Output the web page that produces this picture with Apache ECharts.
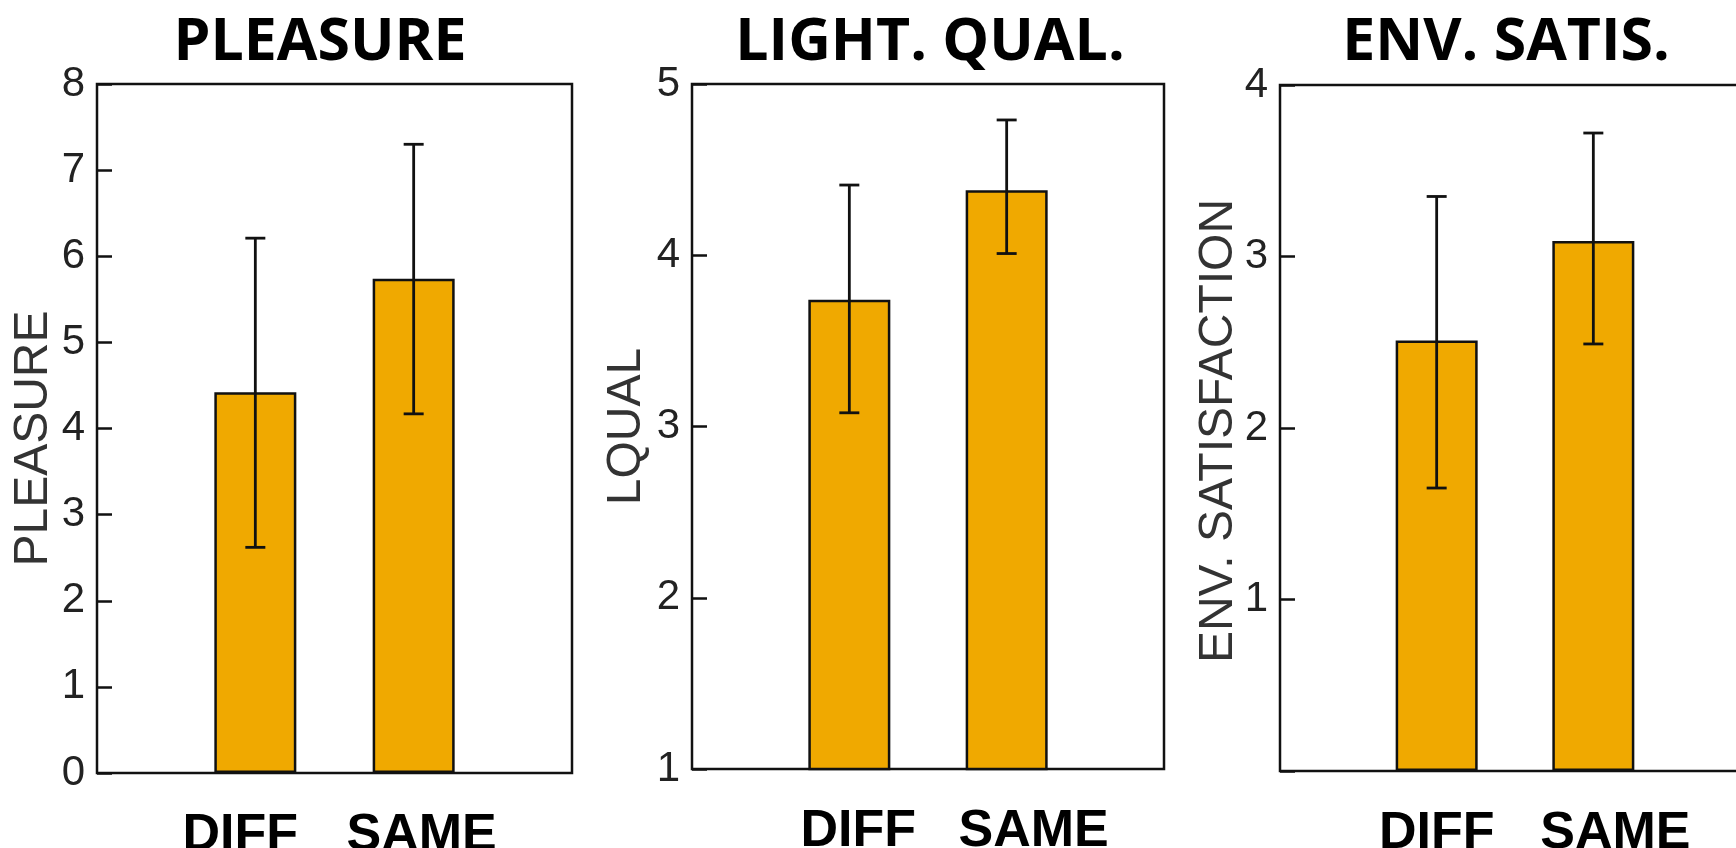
<!DOCTYPE html>
<html>
<head>
<meta charset="utf-8">
<script src="https://cdn.jsdelivr.net/npm/echarts@6/dist/echarts.min.js"></script>
<style>
  html, body { margin: 0; padding: 0; background: #fff; }
  #chart { width: 1736px; height: 848px; }
</style>
</head>
<body>
<div id="chart"></div>
<script>
// ---- data ----
const categories = ['DIFF', 'SAME'];
const panelTitles = ['PLEASURE', 'LIGHT. QUAL.', 'ENV. SATIS.'];
const yAxisNames = ['PLEASURE', 'LQUAL', 'ENV. SATISFACTION'];
const yMins = [0, 1, 0];
const yMaxs = [8, 5, 4];

const pleasureMeans = [4.42, 5.74];
const pleasureLow = [2.62, 4.17];
const pleasureHigh = [6.21, 7.30];

const lqualMeans = [3.74, 4.38];
const lqualLow = [3.08, 4.01];
const lqualHigh = [4.41, 4.79];

const envMeans = [2.51, 3.09];
const envLow = [1.65, 2.49];
const envHigh = [3.35, 3.72];

// ---- layout ----
const grids = [
  { left: 97, top: 84, width: 475, height: 689 },
  { left: 692, top: 84, width: 472, height: 685 },
  { left: 1280, top: 85, width: 470, height: 686 }
];
const titleCenters = [315, 925, 1501];
const nameGaps = [39, 41, 37];
const nameShiftDown = [10, 0, 3];
// horizontal nudges of the category labels [DIFF, SAME] per panel
const labelNudges = [[-15, 8], [9, 27], [0, 22]];

const panels = [
  { means: pleasureMeans, low: pleasureLow, high: pleasureHigh },
  { means: lqualMeans, low: lqualLow, high: lqualHigh },
  { means: envMeans, low: envLow, high: envHigh }
];

const BAR = '#F0A900';
const INK = '#111111';

function nudgeRich(i) {
  const rich = {};
  categories.forEach((c, k) => {
    const s = labelNudges[i][k];
    rich['c' + k] = {
      fontFamily: "'Liberation Sans', Arial, sans-serif", fontWeight: 'bold', fontSize: 52, color: '#000',
      padding: s >= 0 ? [0, 0, 0, 2 * s] : [0, -2 * s, 0, 0]
    };
  });
  return rich;
}

// value axes with ticks and labels
const tickAxes = grids.map((g, i) => ({
  type: 'value', gridIndex: i, min: yMins[i], max: yMaxs[i], interval: 1,
  axisLine: { show: false },
  axisTick: { show: true, inside: true, length: 15, lineStyle: { color: INK, width: 2.5 } },
  splitLine: { show: false },
  axisLabel: {
    margin: 12, padding: [0, 0, 20, 0],
    fontFamily: "'Liberation Sans', Arial, sans-serif",
    fontSize: 42, color: '#222',
    formatter: v => (i === 2 && v === 0) ? '' : String(v)
  }
}));
// twin axes that only carry the axis titles
const nameAxes = grids.map((g, i) => ({
  type: 'value', gridIndex: i, min: yMins[i], max: yMaxs[i], position: 'left',
  name: yAxisNames[i], nameLocation: 'middle', nameGap: nameGaps[i], nameRotate: 90,
  nameTextStyle: {
    fontFamily: "'Liberation Sans', Arial, sans-serif", fontSize: 48, color: '#333',
    padding: [0, 2 * nameShiftDown[i], 0, 0]
  },
  axisLine: { show: false }, axisTick: { show: false }, axisLabel: { show: false }, splitLine: { show: false }
}));

const option = {
  backgroundColor: '#ffffff',
  animation: false,
  title: panelTitles.map((t, i) => ({
    text: t,
    left: titleCenters[i],
    top: 5,
    textAlign: 'center',
    textStyle: { fontFamily: "'Open Sans', 'DejaVu Sans', sans-serif", fontWeight: 700, fontSize: 59, color: '#000', lineHeight: 66 }
  })),
  grid: grids.map(g => Object.assign({
    show: true, borderColor: INK, borderWidth: 2.5, backgroundColor: 'transparent',
    containLabel: false, outerBoundsMode: 'none'
  }, g)),
  xAxis: grids.map((g, i) => ({
    type: 'value', gridIndex: i, min: 0, max: 3, interval: 1,
    axisLine: { show: false }, axisTick: { show: false }, splitLine: { show: false },
    axisLabel: {
      margin: 37,
      fontFamily: "'Liberation Sans', Arial, sans-serif", fontWeight: 'bold', fontSize: 52, color: '#000',
      rich: nudgeRich(i),
      formatter: v => (v >= 1 && v <= categories.length && v === Math.round(v)) ? '{c' + (v - 1) + '|' + categories[v - 1] + '}' : ''
    }
  })),
  yAxis: tickAxes.concat(nameAxes),
  series: []
};

panels.forEach((p, i) => {
  option.series.push({
    type: 'bar', xAxisIndex: i, yAxisIndex: i,
    barWidth: 82,
    data: p.means.map((m, k) => [k + 1, m]),
    itemStyle: { color: BAR, borderColor: INK, borderWidth: 2.5 },
    clip: true
  });
  option.series.push({
    type: 'custom', xAxisIndex: i, yAxisIndex: i,
    data: p.means.map((m, k) => [k + 1, p.low[k], p.high[k]]),
    encode: { x: 0, y: [1, 2] },
    z: 5,
    renderItem: function (params, api) {
      const x = api.value(0);
      const lo = api.coord([x, api.value(1)]);
      const hi = api.coord([x, api.value(2)]);
      const hw = 10;
      const st = { stroke: INK, lineWidth: 2.8 };
      return {
        type: 'group',
        children: [
          { type: 'line', shape: { x1: lo[0], y1: lo[1], x2: hi[0], y2: hi[1] }, style: st },
          { type: 'line', shape: { x1: hi[0] - hw, y1: hi[1], x2: hi[0] + hw, y2: hi[1] }, style: st },
          { type: 'line', shape: { x1: lo[0] - hw, y1: lo[1], x2: lo[0] + hw, y2: lo[1] }, style: st }
        ]
      };
    }
  });
});

const chart = echarts.init(document.getElementById('chart'), null, { renderer: 'canvas' });
chart.setOption(option);
</script>
</body>
</html>
